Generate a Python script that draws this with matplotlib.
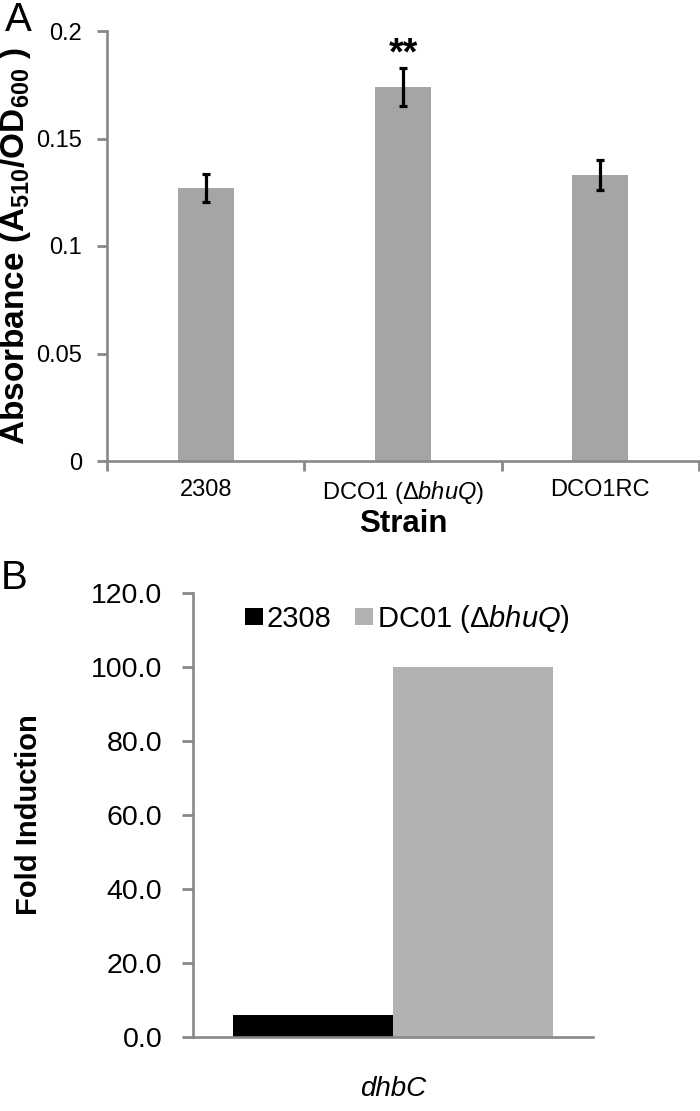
import matplotlib
matplotlib.use("Agg")
import matplotlib.pyplot as plt
import numpy as np

plt.rcParams['font.family'] = ['Liberation Sans', 'DejaVu Sans']
plt.rcParams['mathtext.fontset'] = 'custom'
plt.rcParams['mathtext.rm'] = 'Liberation Sans'
plt.rcParams['mathtext.it'] = 'Liberation Sans:italic'
plt.rcParams['mathtext.bf'] = 'Liberation Sans:bold'

# Panel A data
strains = ['2308', r'DCO1 ($\Delta$$\it{bhuQ}$)', 'DCO1RC']
absorbance = [0.127, 0.174, 0.133]
absorbance_err = [0.0067, 0.009, 0.007]
a_ticks = [0, 0.05, 0.1, 0.15, 0.2]
a_ticklabels = ['0', '0.05', '0.1', '0.15', '0.2']

# Panel B data
gene = ['dhbC']
series_names = ['2308', r'DC01 ($\Delta$$\it{bhuQ}$)']
fold_2308 = [5.9]
fold_dc01 = [100.0]
b_ticks = [0, 20, 40, 60, 80, 100, 120]

spine_col = '#888888'
W, H = 700, 1111
fig = plt.figure(figsize=(W / 100, H / 100), dpi=100)

# ================== PANEL A ==================
ax1 = fig.add_axes([107 / W, 1 - 461 / H, 592 / W, 430 / H])
x = np.arange(len(strains))
ax1.bar(x, absorbance, width=0.285, color='#a5a5a5', zorder=2)
ax1.errorbar(x, absorbance, yerr=absorbance_err, fmt='none', ecolor='black',
             elinewidth=2.3, capsize=2.6, capthick=2.3, zorder=3)
ax1.text(x[1], 0.1845, '**', ha='center', va='baseline', fontsize=27,
         fontweight='bold')
ax1.set_xlim(-0.5, len(strains) - 0.5)
ax1.set_ylim(0, 0.2)
ax1.set_yticks(a_ticks)
ax1.set_yticklabels(a_ticklabels)
ax1.set_xticks(x)
ax1.set_xticklabels(strains)
ax1.set_xticks(np.arange(len(strains) + 1) - 0.5, minor=True)
ax1.tick_params(axis='x', which='major', length=0, pad=13, labelsize=17)
ax1.tick_params(axis='x', which='minor', direction='out', length=7, width=2,
                color=spine_col)
ax1.tick_params(axis='y', direction='out', length=7, width=2, color=spine_col,
                pad=11, labelsize=17)
for side in ['top', 'right']:
    ax1.spines[side].set_visible(False)
for side in ['left', 'bottom']:
    ax1.spines[side].set_color(spine_col)
    ax1.spines[side].set_linewidth(1.9)
ax1.set_ylabel(r'Absorbance (A$_{\mathbf{510}}$/OD$_{\mathbf{600}}$ )',
               fontsize=24, fontweight='bold')
ax1.yaxis.set_label_coords(-0.125, 0.5)
fig.text(403 / W, 1 - 524 / H, 'Strain', ha='center', va='center',
         fontsize=22.5, fontweight='bold')
fig.text(18 / W, 1 - 20 / H, 'A', ha='center', va='center', fontsize=29)

# ================== PANEL B ==================
ax2 = fig.add_axes([193 / W, 1 - 1037 / H, 400 / W, 444 / H])
bw = 0.4
b1 = ax2.bar([-bw / 2], fold_2308, width=bw, color='black', label=series_names[0])
b2 = ax2.bar([bw / 2], fold_dc01, width=bw, color='#b2b2b2', label=series_names[1])
ax2.set_xlim(-0.5, 0.5)
ax2.set_ylim(0, 120)
ax2.set_yticks(b_ticks)
ax2.set_yticklabels([f'{t:.1f}' for t in b_ticks])
ax2.set_xticks([0])
ax2.set_xticklabels(gene, style='italic')
ax2.tick_params(axis='x', length=0, pad=28, labelsize=20)
ax2.tick_params(axis='y', direction='out', length=8, width=2, color=spine_col,
                pad=14, labelsize=20.5)
for side in ['top', 'right']:
    ax2.spines[side].set_visible(False)
for side in ['left', 'bottom']:
    ax2.spines[side].set_color(spine_col)
    ax2.spines[side].set_linewidth(1.9)
ax2.set_ylabel('Fold Induction', fontsize=21, fontweight='bold')
ax2.yaxis.set_label_coords(-0.375, 0.5)
fig.text(14 / W, 1 - 578 / H, 'B', ha='center', va='center', fontsize=29)

fig.legend(handles=[b1, b2], labels=series_names, loc='center left',
           bbox_to_anchor=(245 / W, 1 - 619 / H), ncol=2, frameon=False,
           fontsize=21, handlelength=0.6, handleheight=0.55,
           handletextpad=0.15, columnspacing=0.8, borderpad=0,
           borderaxespad=0)

fig.savefig('out.png', dpi=100)
